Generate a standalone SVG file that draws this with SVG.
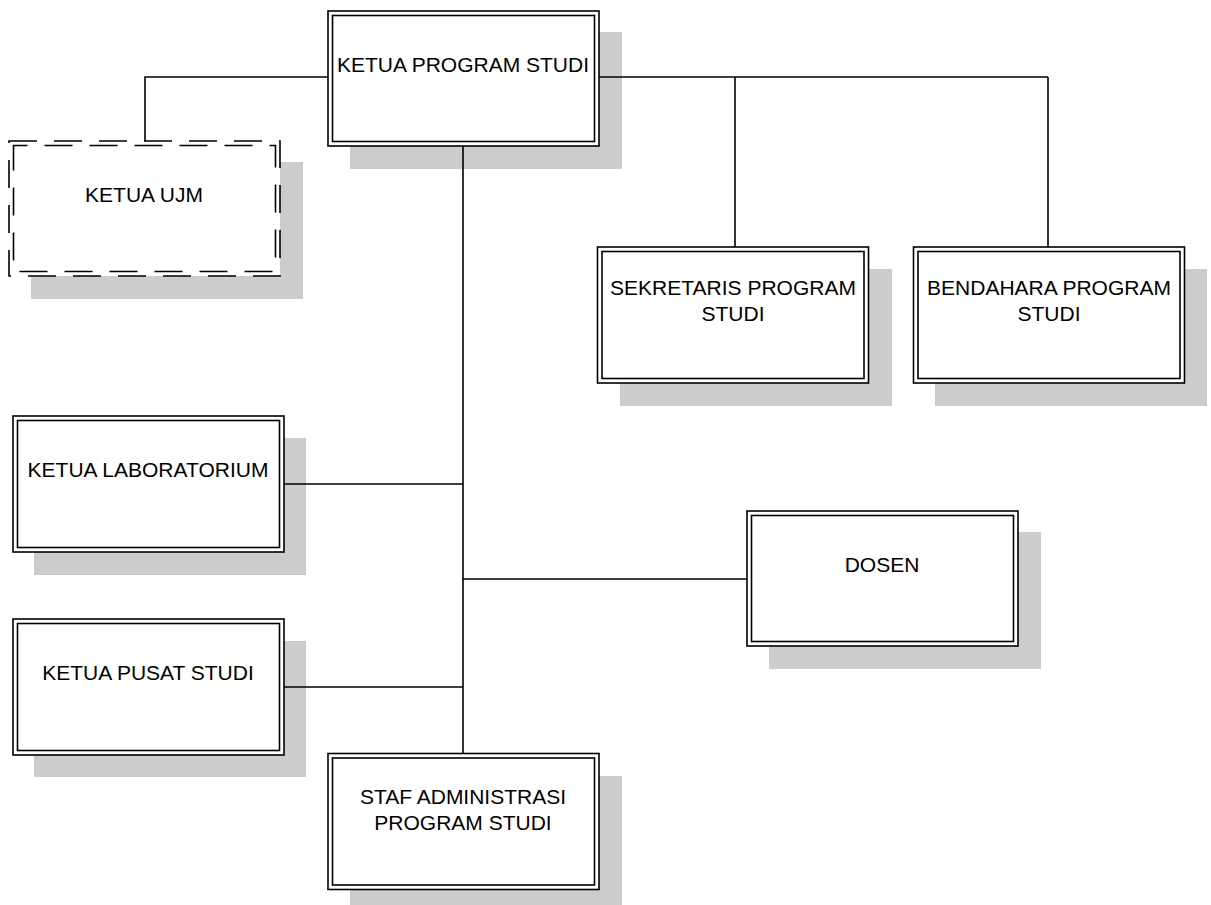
<svg xmlns="http://www.w3.org/2000/svg" width="1211" height="905" viewBox="0 0 1211 905">
<style>
.bg{fill:#ffffff}
.sh{fill:#cccccc;stroke:none}
.o{fill:#ffffff;stroke:#000000;stroke-width:1.6}
.i{fill:none;stroke:#000000;stroke-width:1.6}
.od{fill:#ffffff;stroke:#000000;stroke-width:1.6;stroke-dasharray:28 17}
.id{fill:none;stroke:#000000;stroke-width:1.6;stroke-dasharray:28 17;stroke-dashoffset:14}
.t{font-family:"Liberation Sans",Arial,sans-serif;font-size:21px;fill:#000000;text-anchor:middle}
.c{stroke:#000000;stroke-width:1.6;fill:none}
</style>
<rect class="bg" x="0" y="0" width="1211" height="905"/>
<g id="node-kps">
<rect class="sh" x="350" y="32" width="272" height="137"/>
<rect class="o" x="328" y="11" width="271" height="135"/>
<rect class="i" x="332.5" y="15.5" width="262" height="126"/>
<text class="t" x="463" y="72">KETUA PROGRAM STUDI</text>
</g>
<g id="node-ujm">
<rect class="sh" x="31" y="162" width="272" height="137"/>
<rect class="od" x="9" y="141" width="271" height="135"/>
<rect class="id" x="13.5" y="145.5" width="262" height="126"/>
<text class="t" x="144" y="202">KETUA UJM</text>
</g>
<g id="node-sekretaris">
<rect class="sh" x="620" y="269" width="272" height="137"/>
<rect class="o" x="597.5" y="247" width="271" height="136"/>
<rect class="i" x="602" y="251.5" width="262" height="127"/>
<text class="t" x="733" y="295">SEKRETARIS PROGRAM</text>
<text class="t" x="733" y="321">STUDI</text>
</g>
<g id="node-bendahara">
<rect class="sh" x="935" y="269" width="272" height="137"/>
<rect class="o" x="913.5" y="247" width="271" height="136"/>
<rect class="i" x="918" y="251.5" width="262" height="127"/>
<text class="t" x="1049" y="295">BENDAHARA PROGRAM</text>
<text class="t" x="1049" y="321">STUDI</text>
</g>
<g id="node-lab">
<rect class="sh" x="34" y="438" width="272" height="137"/>
<rect class="o" x="13" y="416" width="271" height="136"/>
<rect class="i" x="17.5" y="420.5" width="262" height="127"/>
<text class="t" x="148" y="477">KETUA LABORATORIUM</text>
</g>
<g id="node-dosen">
<rect class="sh" x="769" y="532" width="272" height="137"/>
<rect class="o" x="747" y="511" width="271" height="135"/>
<rect class="i" x="751.5" y="515.5" width="262" height="126"/>
<text class="t" x="882" y="572">DOSEN</text>
</g>
<g id="node-pusat">
<rect class="sh" x="34" y="641" width="272" height="136"/>
<rect class="o" x="13" y="619" width="271" height="136"/>
<rect class="i" x="17.5" y="623.5" width="262" height="127"/>
<text class="t" x="148" y="680">KETUA PUSAT STUDI</text>
</g>
<g id="node-staf">
<rect class="sh" x="350" y="776" width="272" height="137"/>
<rect class="o" x="328" y="753.5" width="271" height="136"/>
<rect class="i" x="332.5" y="758" width="262" height="127"/>
<text class="t" x="463" y="804">STAF ADMINISTRASI</text>
<text class="t" x="463" y="830">PROGRAM STUDI</text>
</g>
<g id="connectors">
<polyline class="c" points="328,77 145,77 145,141"/>
<line class="c" x1="599" y1="77" x2="1048" y2="77"/>
<line class="c" x1="735" y1="77" x2="735" y2="247"/>
<line class="c" x1="1048" y1="77" x2="1048" y2="247"/>
<line class="c" x1="463" y1="146" x2="463" y2="753.5"/>
<line class="c" x1="284" y1="484" x2="463" y2="484"/>
<line class="c" x1="463" y1="579" x2="747" y2="579"/>
<line class="c" x1="284" y1="687" x2="463" y2="687"/>
</g>
</svg>
